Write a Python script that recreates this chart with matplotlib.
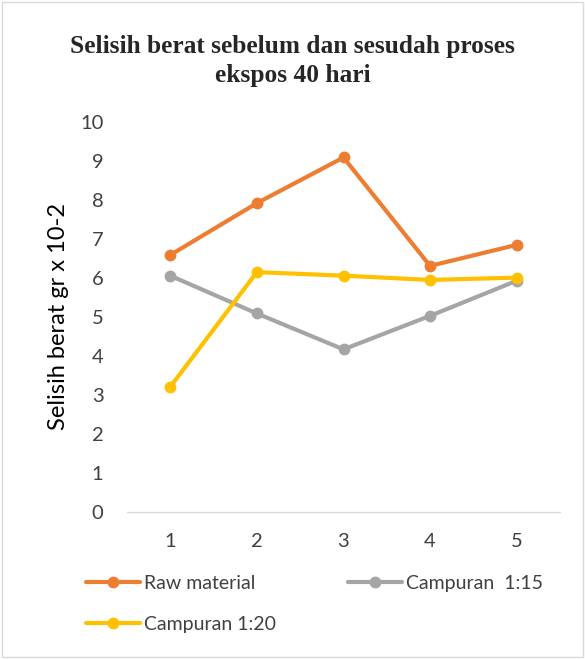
import matplotlib
matplotlib.use("Agg")
import matplotlib.pyplot as plt

days = [1, 2, 3, 4, 5]
raw_material = [6.59, 7.92, 9.09, 6.31, 6.85]
campuran_1_15 = [6.06, 5.09, 4.17, 5.03, 5.93]
campuran_1_20 = [3.21, 6.15, 6.06, 5.95, 6.01]
series_labels = ["Raw material", "Campuran  1:15", "Campuran 1:20"]
series_colors = ["#ED7D31", "#A5A5A5", "#FFC000"]
y_ticks = list(range(0, 11))

W, H = 585, 659
fig = plt.figure(figsize=(W / 100, H / 100), dpi=100)
fig.patch.set_facecolor("white")

# chart frame border
fig.add_artist(plt.Rectangle((2 / W, 2 / H), 1 - 4 / W, 1 - 4 / H, transform=fig.transFigure,
                             fill=False, edgecolor="#D9D9D9", lw=1))

ax = fig.add_axes([127 / W, 1 - 512 / H, (560 - 127) / W, (512 - 122) / H])
lines = []
for vals, lab, col in zip([raw_material, campuran_1_15, campuran_1_20], series_labels, series_colors):
    ln, = ax.plot(days, vals, color=col, lw=3, marker="o", markersize=7.5, label=lab,
                  solid_capstyle="round", solid_joinstyle="round")
    lines.append(ln)

ax.set_xlim(0.5, 5.5)
ax.set_ylim(0, 10)
ax.set_xticks(days)
ax.set_yticks(y_ticks)
ax.tick_params(axis="both", length=0, labelsize=14.5, labelcolor="#404040")
ax.tick_params(axis="y", pad=17)
ax.tick_params(axis="x", pad=15)
for lab in ax.get_xticklabels() + ax.get_yticklabels():
    lab.set_fontfamily("Lato")
for side in ["top", "right", "left"]:
    ax.spines[side].set_visible(False)
ax.spines["bottom"].set_color("#D9D9D9")
ax.spines["bottom"].set_linewidth(1)
ax.set_ylabel("Selisih berat gr x 10-2", fontsize=17, color="#000000", family="Lato")
ax.yaxis.set_label_coords((69 - 127) / 433, 0.5)

fig.text(0.5, 1 - 61 / H, "Selisih berat sebelum dan sesudah proses\nekspos 40 hari", ha="center", va="center",
         fontsize=18.3, fontweight="bold", family="Liberation Serif", color="#262626", linespacing=1.3)

# Excel fills the legend row by row
order = [0, 2, 1]
leg = fig.legend([lines[i] for i in order], [series_labels[i] for i in order],
                 loc="upper left", bbox_to_anchor=(70 / W, 1 - 559 / H), ncol=2, frameon=False,
                 borderpad=0.3, prop={"family": "Lato", "size": 14}, handlelength=2.8,
                 handletextpad=0.2, columnspacing=3.7, labelspacing=1.25, labelcolor="#404040")

fig.savefig("out.png", dpi=100)
